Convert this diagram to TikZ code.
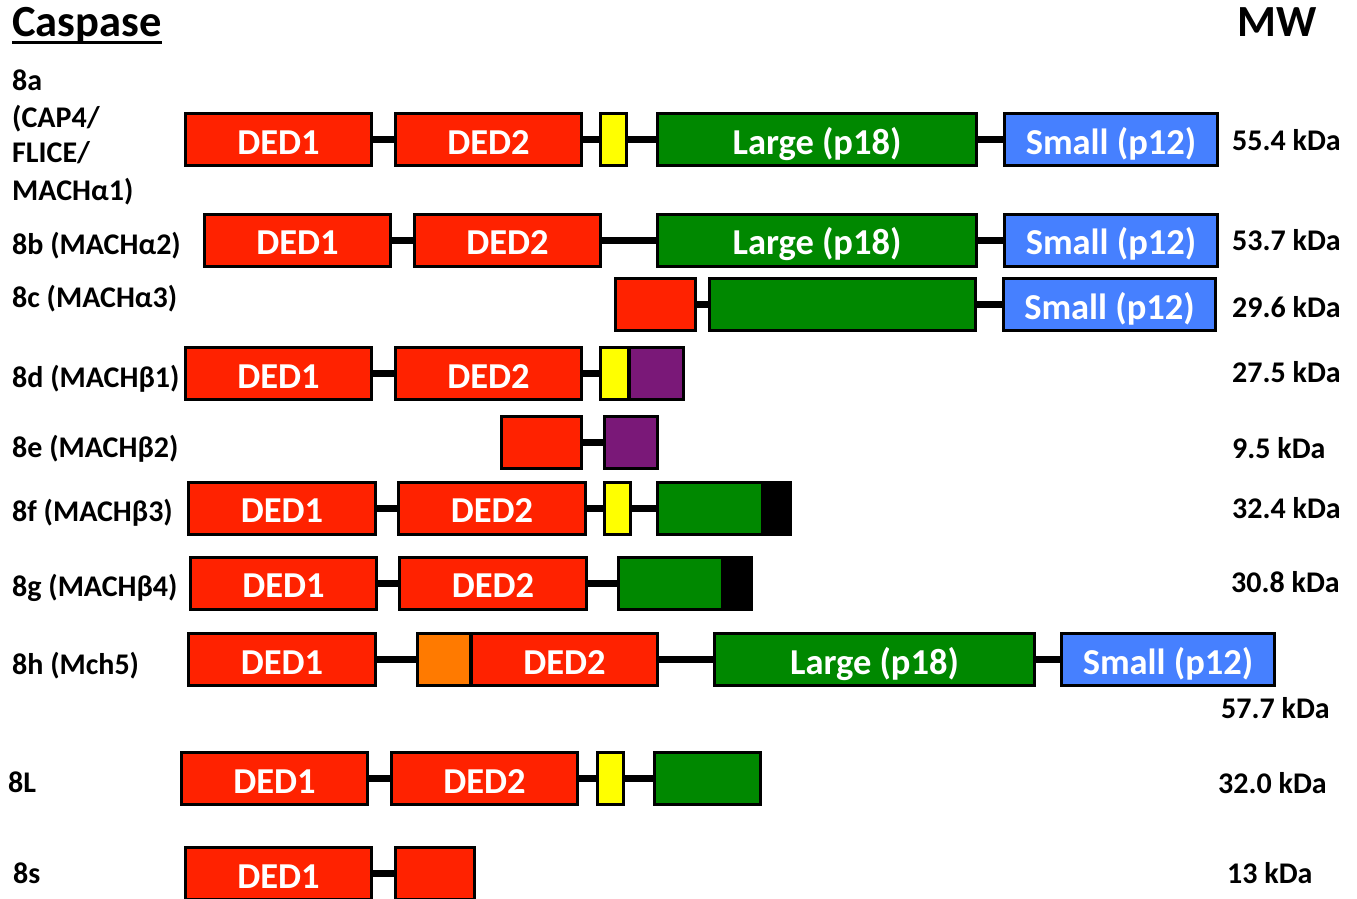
\documentclass[tikz,border=0pt]{standalone}
\usepackage{fontspec}
\setmainfont{Carlito}
\definecolor{dedred}{RGB}{255,34,0}
\definecolor{casgreen}{RGB}{0,136,0}
\definecolor{casblue}{RGB}{70,128,255}
\definecolor{casyellow}{RGB}{255,255,0}
\definecolor{caspurple}{RGB}{122,24,120}
\definecolor{casorange}{RGB}{255,122,0}

% a domain box: name, left edge, right edge, centre line, fill, text
\newcommand\domain[6]{%
  \node[dombox, fill=#5, minimum width={#3-#2-3}] (#1) at ({(#2+#3)/2},#4) {#6};}

\begin{document}
\begin{tikzpicture}[x=1pt, y=-1pt,
  dombox/.style={draw=black, line width=3pt, inner sep=0pt, minimum height=52pt,
    text height=29pt, text depth=0pt, text=white,
    font=\fontsize{36.5}{36}\selectfont\bfseries},
  link/.style={draw=black, line width=7pt},
  lbl/.style={anchor=base west, inner sep=0pt, font=\fontsize{30}{36}\selectfont\bfseries},
  head/.style={anchor=base west, inner sep=0pt, font=\fontsize{44.5}{50}\selectfont\bfseries}]
\useasboundingbox (0,0) rectangle (1357,899);

% headings
\node[head] (title) at (12,37) {Caspase};
\draw[line width=3pt] ([yshift=-6pt]title.base west) -- ([yshift=-6pt]title.base east);
\node[head] (mw) at (1237,37) {MW};

% 8a
\domain{a1}{184}{373}{139.5}{dedred}{DED1}
\domain{a2}{394}{583}{139.5}{dedred}{DED2}
\domain{a3}{599}{628}{139.5}{casyellow}{}
\domain{a4}{656}{978}{139.5}{casgreen}{Large (p18)}
\domain{a5}{1003}{1219}{139.5}{casblue}{Small (p12)}
\draw[link] (a1.east) -- (a2.west);
\draw[link] (a2.east) -- (a3.west);
\draw[link] (a3.east) -- (a4.west);
\draw[link] (a4.east) -- (a5.west);

% 8b
\domain{b1}{203}{392}{240}{dedred}{DED1}
\domain{b2}{413}{602}{240}{dedred}{DED2}
\domain{b4}{656}{978}{240}{casgreen}{Large (p18)}
\domain{b5}{1003}{1219}{240}{casblue}{Small (p12)}
\draw[link] (b1.east) -- (b2.west);
\draw[link] (b2.east) -- (b4.west);
\draw[link] (b4.east) -- (b5.west);

% 8c
\domain{c1}{614}{697}{304.5}{dedred}{}
\domain{c2}{708}{977}{304.5}{casgreen}{}
\domain{c3}{1002}{1217}{304.5}{casblue}{Small (p12)}
\draw[link] (c1.east) -- (c2.west);
\draw[link] (c2.east) -- (c3.west);

% 8d
\domain{d1}{184}{373}{373.5}{dedred}{DED1}
\domain{d2}{394}{583}{373.5}{dedred}{DED2}
\domain{d3}{599}{630}{373.5}{casyellow}{}
\domain{d4}{628}{685}{373.5}{caspurple}{}
\draw[link] (d1.east) -- (d2.west);
\draw[link] (d2.east) -- (d3.west);

% 8e
\domain{e1}{500}{583}{442}{dedred}{}
\domain{e2}{603}{659}{442}{caspurple}{}
\draw[link] (e1.east) -- (e2.west);

% 8f
\domain{f1}{187}{377}{508}{dedred}{DED1}
\domain{f2}{397}{587}{508}{dedred}{DED2}
\domain{f3}{603}{632}{508}{casyellow}{}
\domain{f4}{656}{764}{508}{casgreen}{}
\domain{f5}{763}{792}{508}{black}{}
\draw[link] (f1.east) -- (f2.west);
\draw[link] (f2.east) -- (f3.west);
\draw[link] (f3.east) -- (f4.west);

% 8g
\domain{g1}{189}{378}{583}{dedred}{DED1}
\domain{g2}{398}{588}{583}{dedred}{DED2}
\domain{g3}{617}{724}{583}{casgreen}{}
\domain{g4}{723}{753}{583}{black}{}
\draw[link] (g1.east) -- (g2.west);
\draw[link] (g2.east) -- (g3.west);

% 8h
\domain{h1}{187}{377}{659.5}{dedred}{DED1}
\domain{h2}{416}{472}{659.5}{casorange}{}
\domain{h3}{470}{659}{659.5}{dedred}{DED2}
\domain{h4}{713}{1036}{659.5}{casgreen}{Large (p18)}
\domain{h5}{1060}{1276}{659.5}{casblue}{Small (p12)}
\draw[link] (h1.east) -- (h2.west);
\draw[link] (h3.east) -- (h4.west);
\draw[link] (h4.east) -- (h5.west);

% 8L
\domain{l1}{180}{369}{778.5}{dedred}{DED1}
\domain{l2}{390}{579}{778.5}{dedred}{DED2}
\domain{l3}{596}{625}{778.5}{casyellow}{}
\domain{l4}{653}{762}{778.5}{casgreen}{}
\draw[link] (l1.east) -- (l2.west);
\draw[link] (l2.east) -- (l3.west);
\draw[link] (l3.east) -- (l4.west);

% 8s
\domain{s1}{184}{373}{873.5}{dedred}{DED1}
\domain{s2}{394}{476}{873.5}{dedred}{}
\draw[link] (s1.east) -- (s2.west);

% isoform names
\node[lbl] (na1) at (12,90) {8a};
\node[lbl] (na2) at (12,127) {(CAP4/};
\node[lbl] (na3) at (12,162) {FLICE/};
\node[lbl] (na4) at (12,200) {MACHα1)};
\node[lbl] (nb) at (12,254) {8b (MACHα2)};
\node[lbl] (nc) at (12,307) {8c (MACHα3)};
\node[lbl] (nd) at (12,387) {8d (MACHβ1)};
\node[lbl] (ne) at (12,457) {8e (MACHβ2)};
\node[lbl] (nf) at (12,521) {8f (MACHβ3)};
\node[lbl] (ng) at (12,596) {8g (MACHβ4)};
\node[lbl] (nh) at (12,674) {8h (Mch5)};
\node[lbl] (nl) at (8,792) {8L};
\node[lbl] (ns) at (13,883) {8s};

% molecular weights
\node[lbl] (wa) at (1232,150) {55.4 kDa};
\node[lbl] (wb) at (1232,250) {53.7 kDa};
\node[lbl] (wc) at (1232,317) {29.6 kDa};
\node[lbl] (wd) at (1232,382) {27.5 kDa};
\node[lbl] (we) at (1232,458) {9.5 kDa};
\node[lbl] (wf) at (1232,518) {32.4 kDa};
\node[lbl] (wg) at (1231,592) {30.8 kDa};
\node[lbl] (wh) at (1221,718) {57.7 kDa};
\node[lbl] (wl) at (1218,793) {32.0 kDa};
\node[lbl] (ws) at (1227,883) {13 kDa};
\end{tikzpicture}
\end{document}
